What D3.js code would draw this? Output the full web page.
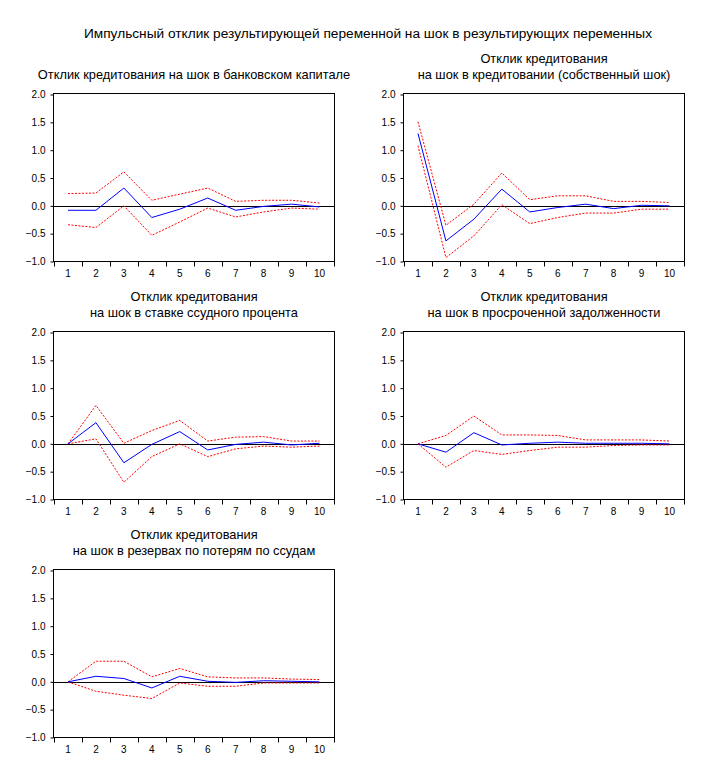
<!DOCTYPE html>
<html>
<head>
<meta charset="utf-8">
<script src="https://cdn.jsdelivr.net/npm/d3@7"></script>
<style>
  html, body { margin: 0; padding: 0; background: #fff; }
  svg { display: block; }
  text { font-family: Arial, "Liberation Sans", sans-serif; fill: #000; }
</style>
</head>
<body>
<svg id="chart" width="720" height="777"></svg>
<script>
// ---------- data ----------
const mainTitle = "Импульсный отклик результирующей переменной на шок в результирующих переменных";
const periods = ["1","2","3","4","5","6","7","8","9","10"];
const yTicks = [-1.0, -0.5, 0.0, 0.5, 1.0, 1.5, 2.0];

const titleCapital = ["Отклик кредитования на шок в банковском капитале"];
const titleCredit  = ["Отклик кредитования", "на шок в кредитовании (собственный шок)"];
const titleRate    = ["Отклик кредитования", "на шок в ставке ссудного процента"];
const titleOverdue = ["Отклик кредитования", "на шок в просроченной задолженности"];
const titleReserve = ["Отклик кредитования", "на шок в резервах по потерям по ссудам"];

const respCapital  = [-0.08, -0.08, 0.32, -0.21, -0.06, 0.14, -0.08, -0.01, 0.03, -0.02];
const upperCapital = [0.22, 0.23, 0.61, 0.10, 0.21, 0.32, 0.08, 0.10, 0.10, 0.05];
const lowerCapital = [-0.34, -0.39, 0.00, -0.53, -0.29, -0.04, -0.20, -0.11, -0.04, -0.06];

const respCredit   = [1.30, -0.63, -0.24, 0.30, -0.11, -0.03, 0.03, -0.05, 0.01, 0.00];
const upperCredit  = [1.51, -0.35, 0.03, 0.59, 0.11, 0.18, 0.18, 0.08, 0.08, 0.06];
const lowerCredit  = [1.08, -0.93, -0.54, 0.02, -0.32, -0.21, -0.13, -0.13, -0.06, -0.06];

const respRate     = [0.00, 0.38, -0.34, -0.01, 0.22, -0.11, -0.01, 0.03, -0.02, 0.01];
const upperRate    = [0.00, 0.69, 0.01, 0.24, 0.42, 0.05, 0.12, 0.13, 0.05, 0.05];
const lowerRate    = [0.00, 0.09, -0.69, -0.23, 0.00, -0.23, -0.09, -0.04, -0.06, -0.04];

const respOverdue  = [0.00, -0.15, 0.20, -0.02, 0.01, 0.03, 0.01, 0.01, 0.01, 0.00];
const upperOverdue = [0.00, 0.15, 0.50, 0.16, 0.16, 0.15, 0.07, 0.07, 0.07, 0.05];
const lowerOverdue = [0.00, -0.42, -0.12, -0.19, -0.12, -0.06, -0.06, -0.03, -0.02, -0.02];

const respReserve  = [0.00, 0.10, 0.06, -0.11, 0.10, 0.01, -0.01, 0.02, 0.01, 0.00];
const upperReserve = [0.00, 0.37, 0.37, 0.09, 0.24, 0.09, 0.07, 0.07, 0.05, 0.04];
const lowerReserve = [0.00, -0.17, -0.24, -0.30, -0.02, -0.08, -0.08, -0.02, -0.02, -0.02];

const panels = [
  { title: titleCapital, resp: respCapital, upper: upperCapital, lower: lowerCapital, col: 0, row: 0 },
  { title: titleCredit,  resp: respCredit,  upper: upperCredit,  lower: lowerCredit,  col: 1, row: 0 },
  { title: titleRate,    resp: respRate,    upper: upperRate,    lower: lowerRate,    col: 0, row: 1 },
  { title: titleOverdue, resp: respOverdue, upper: upperOverdue, lower: lowerOverdue, col: 1, row: 1 },
  { title: titleReserve, resp: respReserve, upper: upperReserve, lower: lowerReserve, col: 0, row: 2 }
];

// ---------- layout ----------
const colLeft = [53.5, 403.5];
const rowTop = [94.5, 332.5, 570.5];
const plotW = 281;
const plotH = 167;

const svg = d3.select("#chart");

svg.append("text")
  .attr("x", 368).attr("y", 37.5)
  .attr("text-anchor", "middle")
  .style("font-size", "13.7px")
  .text(mainTitle);

panels.forEach(p => {
  const left = colLeft[p.col];
  const top = rowTop[p.row];
  const right = left + plotW;
  const bottom = top + plotH;

  const x = d3.scaleBand().domain(periods).range([left + 0.5, right - 1]).padding(0);
  const y = d3.scaleLinear().domain([-1, 2]).range([bottom, top]);
  const cx = i => x(periods[i]) + x.bandwidth() / 2;

  const g = svg.append("g");

  // frame
  g.append("rect")
    .attr("x", left).attr("y", top - 1)
    .attr("width", plotW).attr("height", plotH + 1)
    .attr("fill", "none").attr("stroke", "#000").attr("stroke-width", 1);

  // y axis
  const yAxis = d3.axisLeft(y).tickValues(yTicks).tickFormat(d3.format(".1f")).tickSize(3).tickPadding(5);
  const ya = g.append("g").attr("transform", `translate(${left},0)`).call(yAxis);
  ya.select(".domain").remove();
  ya.selectAll("text").style("font-size", "10px").attr("font-family", null);
  ya.selectAll("line").attr("stroke", "#000");

  // x axis: labels at band centers, ticks at band edges
  const xAxis = d3.axisBottom(x).tickSize(0).tickPadding(8);
  const xa = g.append("g").attr("transform", `translate(0,${bottom})`).call(xAxis);
  xa.select(".domain").remove();
  xa.selectAll("text").style("font-size", "10px").attr("font-family", null);
  const edges = periods.map(d => x(d)).concat([x.range()[1]]);
  g.selectAll(".xedge").data(edges).enter().append("line")
    .attr("x1", d => Math.round(d) + 0.5).attr("x2", d => Math.round(d) + 0.5)
    .attr("y1", bottom).attr("y2", bottom + 5)
    .attr("stroke", "#000").attr("stroke-width", 1);

  // zero line
  g.append("line")
    .attr("x1", left).attr("x2", right)
    .attr("y1", Math.round(y(0)) + 0.5).attr("y2", Math.round(y(0)) + 0.5)
    .attr("stroke", "#000").attr("stroke-width", 1.2);

  const line = d3.line().x((d, i) => cx(i)).y(d => y(d));

  // confidence bands
  [p.upper, p.lower].forEach(arr => {
    g.append("path").datum(arr)
      .attr("d", line)
      .attr("fill", "none")
      .attr("stroke", "#ff0000")
      .attr("stroke-width", 1)
      .attr("stroke-dasharray", "2,1.5");
  });

  // response
  g.append("path").datum(p.resp)
    .attr("d", line)
    .attr("fill", "none")
    .attr("stroke", "#0000ff")
    .attr("stroke-width", 1);

  // title
  const tcx = (left + right) / 2;
  const lines = p.title;
  const baselines = lines.length === 1 ? [top - 16] : [top - 31.5, top - 16];
  lines.forEach((t, i) => {
    svg.append("text")
      .attr("x", tcx).attr("y", baselines[i])
      .attr("text-anchor", "middle")
      .style("font-size", "12.8px")
      .text(t);
  });
});
</script>
</body>
</html>
